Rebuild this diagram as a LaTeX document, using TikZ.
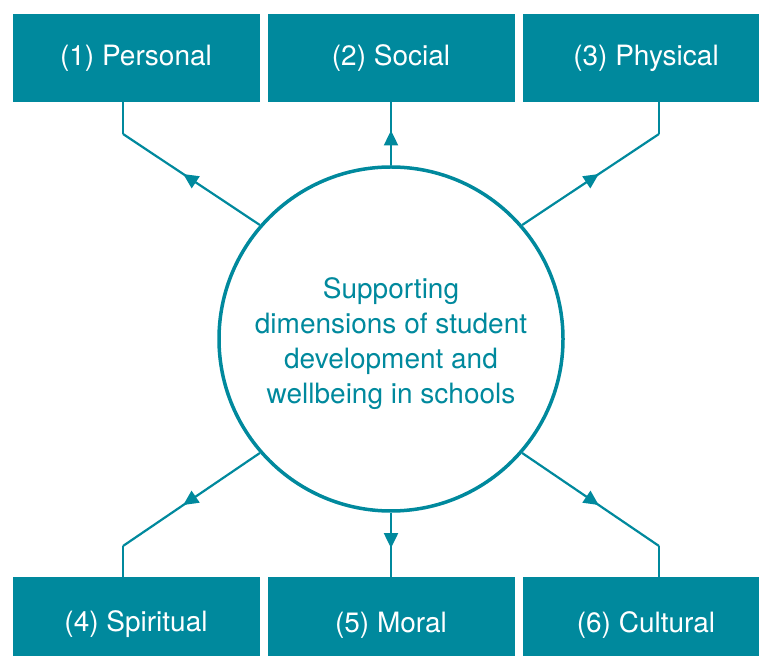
\documentclass[tikz,border=0pt]{standalone}
\usepackage{fontspec}
\setmainfont{TeX Gyre Heros}
\usetikzlibrary{arrows.meta,positioning,decorations.markings}

\definecolor{dimteal}{RGB}{0,137,157}

\tikzset{
  dimbox/.style={fill=dimteal, text=white, minimum width=247pt, minimum height=88pt,
    inner sep=0pt, outer sep=0pt, font=\fontsize{28}{32}\selectfont},
  lowbox/.style={dimbox, text height=28pt},
  link/.style={draw=dimteal, line width=2.2pt},
  midarrow/.style={postaction={decorate}, decoration={markings,
    mark=at position #1 with {\arrow{Triangle[length=15pt,width=14pt]}}}},
}

\begin{document}
\begin{tikzpicture}[x=1pt,y=1pt]
	\useasboundingbox (0,0) rectangle (759,655);

	% centre circle
	\node[circle, draw=dimteal, line width=3.5pt, minimum size=344pt] (hub) at (391,316) {};
	\node[text=dimteal, align=center, font=\fontsize{28}{35}\selectfont] (hubtext) at (391,311)
		{Supporting\\dimensions of student\\development and\\wellbeing in schools};

	% top row
	\node[dimbox] (social) at (391,597) {(2) Social};
	\node[dimbox, left=8pt of social] (personal) {(1) Personal};
	\node[dimbox, right=8pt of social] (physical) {(3) Physical};

	% bottom row
	\node[lowbox] (moral) at (391,34) {(5) Moral};
	\node[lowbox, left=8pt of moral] (spiritual) {(4) Spiritual};
	\node[lowbox, right=8pt of moral] (cultural) {(6) Cultural};

	% bends of the side connectors
	\coordinate (bendA) at (123,521);
	\coordinate (bendB) at (659,521);
	\coordinate (bendC) at (123,109);
	\coordinate (bendD) at (659,109);

	\draw[link, midarrow=0.56] (hub.139) -- (bendA);
	\draw[link] (bendA) -- (personal.south -| bendA);
	\draw[link, midarrow=0.55] (hub.north) -- (social.south);
	\draw[link, midarrow=0.56] (hub.41) -- (bendB);
	\draw[link] (bendB) -- (physical.south -| bendB);

	\draw[link, midarrow=0.56] (hub.221) -- (bendC);
	\draw[link] (bendC) -- (spiritual.north -| bendC);
	\draw[link, midarrow=0.55] (hub.south) -- (moral.north);
	\draw[link, midarrow=0.56] (hub.319) -- (bendD);
	\draw[link] (bendD) -- (cultural.north -| bendD);
\end{tikzpicture}
\end{document}
